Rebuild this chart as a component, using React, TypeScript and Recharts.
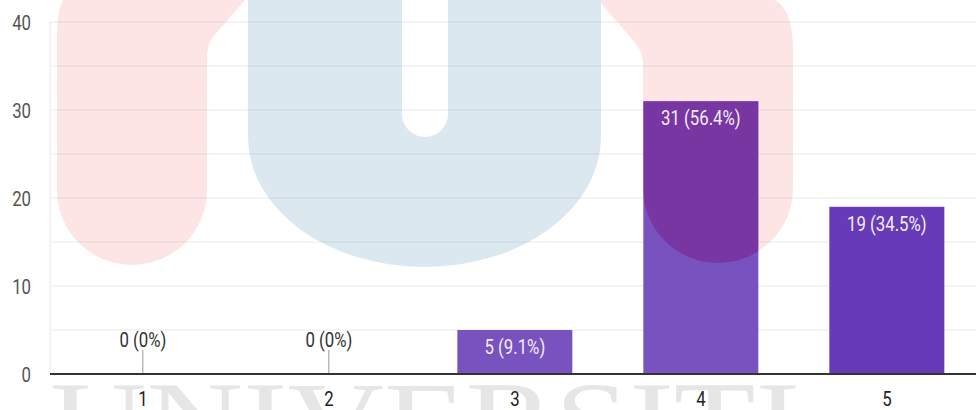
import { BarChart, Bar, XAxis, YAxis, CartesianGrid, LabelList, Cell } from "recharts"

const categories = ["1", "2", "3", "4", "5"]
const counts = [0, 0, 5, 31, 19]
const percents = ["0%", "0%", "9.1%", "56.4%", "34.5%"]
const yTicks = [0, 5, 10, 15, 20, 25, 30, 35, 40]

const data = categories.map((c, i) => ({ name: c, count: counts[i], pct: percents[i] }))

const barColors = ["#7852be", "#7852be", "#7852be", "#7852be", "#673ab7"]

// watermark shapes (background decoration)
const leftPink = "M63 0 L245 0 L212 38 Q207 45 207 60 L207 190 A75 75 0 0 1 57 190 L57 30 Q58 10 63 0 Z"
const rightPink = "M598 0 L775 0 Q793 10 793 50 L793 188 A75 75 0 0 1 643 188 L643 65 Q643 50 633 40 L598 0 Z"
const blueU =
  "M248 0 L402 0 L402 114 A23 23 0 0 0 448 114 L448 0 L601 0 L601 137 A176.5 130 0 0 1 248 137 Z"

const font = "Roboto, 'Noto Sans', sans-serif"

function Squeezed({ x, y, anchor, fill, size, children }: any) {
  return (
    <text
      transform={`translate(${x},${y}) scale(0.8,1)`}
      textAnchor={anchor}
      fill={fill}
      fontSize={size}
      fontFamily={font}
    >
      {children}
    </text>
  )
}

function YTick(props: any) {
  const { x, y, payload } = props
  if (payload.value % 10 !== 0) return <g />
  return (
    <Squeezed x={x - 11} y={y + 8} anchor="end" fill="#555" size={21}>
      {payload.value}
    </Squeezed>
  )
}

function XTick(props: any) {
  const { x, y, payload } = props
  return (
    <Squeezed x={x} y={y + 24} anchor="middle" fill="#222" size={21}>
      {payload.value}
    </Squeezed>
  )
}

function BarShape(props: any) {
  const { x, y, width, height, fill } = props
  if (!height) return <g />
  return (
    <g>
      <rect x={x} y={y} width={width} height={height} fill={fill} />
      <rect x={x} y={y} width={width} height={height} fill="rgb(120,4,116)" fillOpacity={0.35} clipPath="url(#pinkClip)" />
    </g>
  )
}

function BarLabel(props: any) {
  const { x, y, width, index } = props
  const cx = x + width / 2
  const text = `${counts[index]} (${percents[index]})`
  if (counts[index] === 0) {
    return (
      <g>
        <Squeezed x={cx} y={y - 27} anchor="middle" fill="#333" size={21}>
          {text}
        </Squeezed>
        <line x1={cx} x2={cx} y1={y - 24} y2={y - 1} stroke="#999" strokeWidth={1} />
      </g>
    )
  }
  return (
    <Squeezed x={cx} y={y + 24} anchor="middle" fill="#f3eef9" size={21}>
      {text}
    </Squeezed>
  )
}

export default function App() {
  return (
    <div
      style={{
        position: "fixed",
        left: 0,
        top: 0,
        width: 976,
        height: 410,
        overflow: "hidden",
        background: "#fff",
      }}
    >
      <svg width={976} height={410} style={{ position: "absolute", left: 0, top: 0 }}>
        <defs>
          <clipPath id="pinkClip" clipPathUnits="userSpaceOnUse">
            <path d={leftPink} />
            <path d={rightPink} />
          </clipPath>
        </defs>
        <path d={leftPink} fill="#fde5e5" />
        <path d={rightPink} fill="#fde5e5" />
        <path d={blueU} fill="#dce8f0" />
        <text
          x={50}
          y={458}
          textLength={750}
          lengthAdjust="spacingAndGlyphs"
          fontFamily="'Liberation Serif', 'DejaVu Serif', serif"
          fontSize={110}
          fill="#e6e6e6"
        >
          UNIVERSITI
        </text>
      </svg>
      <div style={{ position: "absolute", left: 0, top: 0 }}>
        <BarChart
          width={990}
          height={410}
          data={data}
          margin={{ top: 22, right: 10, bottom: 0, left: 0 }}
          barCategoryGap="19%"
        >
          <CartesianGrid vertical={false} stroke="rgba(0,0,0,0.08)" />
          <YAxis
            width={50}
            domain={[0, 40]}
            ticks={yTicks}
            interval={0}
            tick={<YTick />}
            tickLine={false}
            axisLine={{ stroke: "#e8e8e8" }}
          />
          <XAxis
            dataKey="name"
            height={36}
            tick={<XTick />}
            tickLine={false}
            axisLine={{ stroke: "#333", strokeWidth: 2 }}
          />
          <Bar dataKey="count" shape={<BarShape />} isAnimationActive={false}>
            {data.map((d, i) => (
              <Cell key={d.name} fill={barColors[i]} />
            ))}
            <LabelList dataKey="count" content={<BarLabel />} />
          </Bar>
        </BarChart>
      </div>
    </div>
  )
}
